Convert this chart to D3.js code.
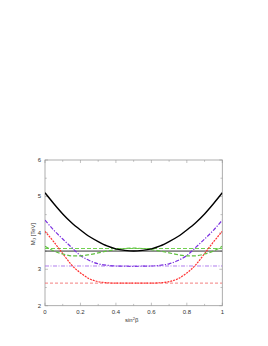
<!DOCTYPE html>
<html><head><meta charset="utf-8">
<script src="https://cdn.jsdelivr.net/npm/d3@7"></script>
<style>html,body{margin:0;padding:0;background:#fff}svg{display:block}</style>
</head><body>
<script>
const xs = [0,0.05,0.1,0.15,0.2,0.25,0.3,0.35,0.4,0.45,0.5,0.55,0.6,0.65,0.7,0.75,0.8,0.85,0.9,0.95,1];
const blackCurve  = [5.10,4.80,4.52,4.28,4.08,3.90,3.76,3.64,3.56,3.52,3.50,3.52,3.56,3.64,3.76,3.90,4.08,4.28,4.52,4.80,5.10];
const purpleCurve = [4.35,4.07,3.83,3.60,3.38,3.24,3.15,3.11,3.09,3.085,3.08,3.085,3.09,3.11,3.15,3.24,3.38,3.60,3.83,4.07,4.35];
const redCurve    = [4.04,3.75,3.43,3.12,2.90,2.74,2.66,2.63,2.62,2.62,2.62,2.62,2.62,2.63,2.66,2.74,2.90,3.12,3.43,3.75,4.04];
const greenCurve  = [3.63,3.50,3.42,3.37,3.37,3.40,3.45,3.50,3.54,3.57,3.58,3.57,3.54,3.50,3.45,3.40,3.37,3.37,3.42,3.50,3.63];
const hLevels = {black:3.50, green:3.57, purple:3.09, red:2.62};
const xTicks = [0,0.2,0.4,0.6,0.8,1];
const yTicks = [2,3,4,5,6];

const W=268,H=346;
const L=45,R=222.3,T=160,B=305.7;
const svg=d3.select("body").append("svg").attr("width",W).attr("height",H);
const x=d3.scaleLinear().domain([0,1]).range([L,R]);
const y=d3.scaleLinear().domain([2,6]).range([B,T]);
const font="Liberation Sans, Arial, sans-serif";

const g=svg.append("g").attr("stroke","#999").attr("stroke-width",0.6);
d3.range(0,1.0001,0.1).forEach((v,i)=>{
  const len = (i%2===0)?3:1.8;
  g.append("line").attr("x1",x(v)).attr("x2",x(v)).attr("y1",B).attr("y2",B-len);
  g.append("line").attr("x1",x(v)).attr("x2",x(v)).attr("y1",T).attr("y2",T+len);
});
d3.range(2,6.0001,0.5).forEach((v,i)=>{
  const len = (i%2===0)?3:1.8;
  g.append("line").attr("y1",y(v)).attr("y2",y(v)).attr("x1",L).attr("x2",L+len);
  g.append("line").attr("y1",y(v)).attr("y2",y(v)).attr("x1",R).attr("x2",R-len);
});
svg.append("rect").attr("x",L).attr("y",T).attr("width",R-L).attr("height",B-T)
  .attr("fill","none").attr("stroke","#999").attr("stroke-width",0.8);

svg.append("g").selectAll("text").data(xTicks).join("text")
  .attr("x",d=>x(d)).attr("y",314).attr("text-anchor","middle")
  .attr("font-family",font).attr("font-size",6).attr("fill","#333")
  .text(d=>d===0||d===1?String(d):d.toFixed(1));
svg.append("g").selectAll("text").data(yTicks).join("text")
  .attr("x",41).attr("y",d=>y(d)+2).attr("text-anchor","end")
  .attr("font-family",font).attr("font-size",6).attr("fill","#333")
  .text(d=>d);

const xl=svg.append("text").attr("x",131.7).attr("y",322).attr("text-anchor","middle")
  .attr("font-family",font).attr("font-size",6).attr("fill","#333");
xl.append("tspan").text("sin");
xl.append("tspan").attr("font-size",4).attr("dy",-2.5).text("2");
xl.append("tspan").attr("dy",2.5).text("β");
const yl=svg.append("text").attr("transform","translate(34.5,234) rotate(-90)").attr("text-anchor","middle")
  .attr("font-family",font).attr("font-size",6).attr("fill","#333");
yl.append("tspan").text("M");
yl.append("tspan").attr("font-size",4).attr("dy",1.5).text("J");
yl.append("tspan").attr("dy",-1.5).text(" [TeV]");

svg.append("clipPath").attr("id","c").append("rect").attr("x",L).attr("y",T).attr("width",R-L).attr("height",B-T);
const pg=svg.append("g").attr("clip-path","url(#c)");
const line=d3.line().x((d,i)=>x(xs[i])).y(d=>y(d)).curve(d3.curveMonotoneX);
function hline(v,color,dash,w){
  pg.append("line").attr("x1",x(0)).attr("x2",x(1)).attr("y1",y(v)).attr("y2",y(v))
    .attr("stroke",color).attr("stroke-width",w).attr("stroke-dasharray",dash);
}
function curve(data,color,dash,w){
  pg.append("path").attr("d",line(data)).attr("fill","none").attr("stroke",color)
    .attr("stroke-width",w).attr("stroke-dasharray",dash);
}
hline(hLevels.red,"#f06060","3,2",0.8);
hline(hLevels.purple,"#9a5ce8","4,1.5,1,1.5",0.8);
hline(hLevels.green,"#70d050","4,2",1);
hline(hLevels.black,"#333",null,1);
curve(redCurve,"#ff3030","2,1",1.2);
curve(purpleCurve,"#7a30e0","4,1.5,1.2,1.5",1.2);
curve(greenCurve,"#60c040","4,2",1.2);
curve(blackCurve,"#000",null,1.4);
</script>
</body></html>
